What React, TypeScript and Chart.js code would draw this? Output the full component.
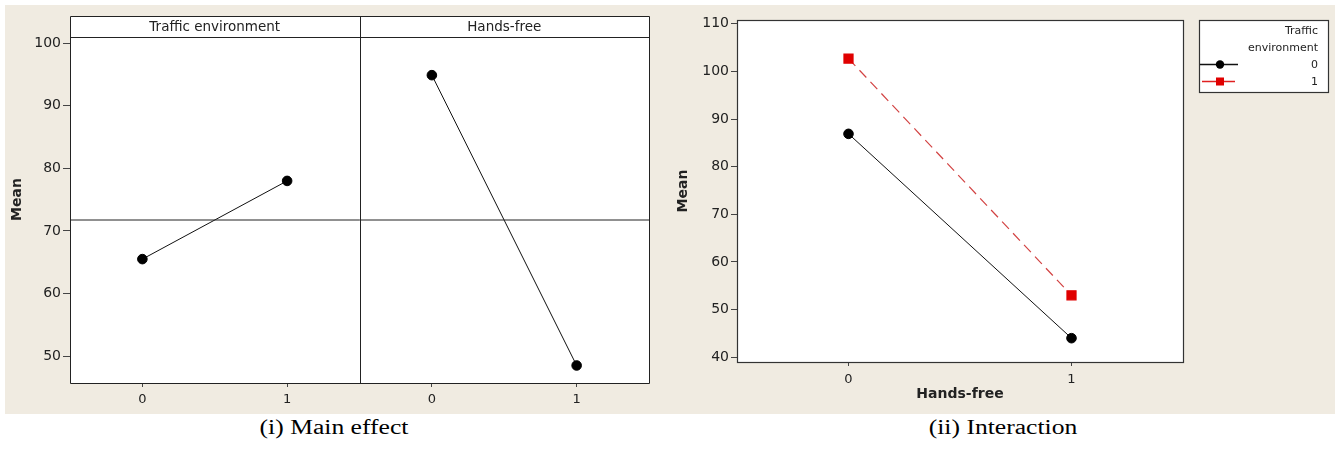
import React, { useEffect, useRef } from "react";
import { Chart, registerables } from "chart.js";

Chart.register(...registerables);

// ---------- data ----------
const mainFacetTitles = ["Traffic environment", "Hands-free"];
const mainXTickValues = [0, 1, 2, 3];
const mainXTickLabels = ["0", "1", "0", "1"];
const trafficLevels = [0, 1];
const trafficMeans = [65.5, 78.0];
const handsFreeLevels = [2, 3];
const handsFreeMeans = [94.9, 48.5];
const grandMean = 71.75;
const mainYTicks = [50, 60, 70, 80, 90, 100];

const interXTickValues = [0, 1];
const interXTickLabels = ["0", "1"];
const interHandsFree = [0, 1];
const interEnv0Means = [86.9, 44.0];
const interEnv1Means = [102.7, 53.0];
const interYTicks = [40, 50, 60, 70, 80, 90, 100, 110];
const legendTitle = ["Traffic", "environment"];
const legendLabels = ["0", "1"];

const FONT = "'DejaVu Sans', Tahoma, sans-serif";
const INK = "#222";
const BEIGE = "#f0ebe1";

const crisp = (v: number) => Math.round(v) + 0.5;

const mainPlugin = {
  id: "mainFacets",
  beforeDraw(chart: any) {
    const { ctx, chartArea } = chart;
    const { left, top, right, bottom } = chartArea;
    ctx.save();
    ctx.fillStyle = "#fff";
    ctx.fillRect(left, top - 21, right - left, bottom - top + 21);
    ctx.restore();
  },
  afterDraw(chart: any) {
    const { ctx, chartArea, scales } = chart;
    const { left, top, right, bottom } = chartArea;
    const stripTop = top - 21;
    const divX = scales.x.getPixelForValue(1.5);
    ctx.save();
    ctx.strokeStyle = INK;
    ctx.lineWidth = 1;
    ctx.beginPath();
    ctx.rect(crisp(left), crisp(stripTop), Math.round(right - left), Math.round(bottom - stripTop));
    ctx.moveTo(crisp(left), crisp(top));
    ctx.lineTo(crisp(right), crisp(top));
    ctx.moveTo(crisp(divX), crisp(stripTop));
    ctx.lineTo(crisp(divX), crisp(bottom));
    ctx.stroke();
    ctx.fillStyle = INK;
    ctx.font = `13.5px ${FONT}`;
    ctx.textAlign = "center";
    ctx.textBaseline = "middle";
    ctx.fillText(mainFacetTitles[0], (left + divX) / 2, stripTop + 11);
    ctx.fillText(mainFacetTitles[1], (divX + right) / 2, stripTop + 11);
    // y title
    ctx.translate(12, (stripTop + bottom) / 2);
    ctx.rotate(-Math.PI / 2);
    ctx.font = `bold 14px ${FONT}`;
    ctx.fillText("Mean", 0, 0);
    ctx.restore();
  },
};

const interPlugin = {
  id: "interDecor",
  beforeDraw(chart: any) {
    const { ctx, chartArea } = chart;
    const { left, top, right, bottom } = chartArea;
    ctx.save();
    ctx.fillStyle = "#fff";
    ctx.fillRect(left, top, right - left, bottom - top);
    ctx.restore();
  },
  afterDraw(chart: any) {
    const { ctx, chartArea } = chart;
    const { left, top, right, bottom } = chartArea;
    ctx.save();
    ctx.strokeStyle = "#333";
    ctx.lineWidth = 1.2;
    ctx.strokeRect(crisp(left), crisp(top), Math.round(right - left), Math.round(bottom - top));
    ctx.fillStyle = INK;
    ctx.textAlign = "center";
    ctx.textBaseline = "middle";
    ctx.font = `bold 14px ${FONT}`;
    ctx.fillText("Hands-free", (left + right) / 2, bottom + 32);
    ctx.save();
    ctx.translate(18, (top + bottom) / 2);
    ctx.rotate(-Math.PI / 2);
    ctx.fillText("Mean", 0, 0);
    ctx.restore();

    // legend
    const lx = 534, ly = 15, lw = 129, lh = 72;
    ctx.fillStyle = "#fff";
    ctx.fillRect(lx, ly, lw, lh);
    ctx.strokeStyle = "#333";
    ctx.lineWidth = 1.2;
    ctx.strokeRect(crisp(lx), crisp(ly), lw, lh);
    ctx.fillStyle = INK;
    ctx.font = `11px ${FONT}`;
    ctx.textAlign = "right";
    const tx = lx + lw - 10;
    ctx.fillText(legendTitle[0], tx, ly + 11);
    ctx.fillText(legendTitle[1], tx, ly + 28);
    ctx.fillText(legendLabels[0], tx, ly + 45);
    ctx.fillText(legendLabels[1], tx, ly + 62);
    // samples
    ctx.lineWidth = 1.3;
    ctx.strokeStyle = "#111";
    ctx.beginPath();
    ctx.moveTo(lx + 1, ly + 44.5);
    ctx.lineTo(lx + 39, ly + 44.5);
    ctx.stroke();
    ctx.fillStyle = "#000";
    ctx.beginPath();
    ctx.arc(lx + 21, ly + 44.5, 4.2, 0, Math.PI * 2);
    ctx.fill();
    ctx.strokeStyle = "#e02020";
    ctx.beginPath();
    ctx.moveTo(lx + 3, ly + 61.5);
    ctx.lineTo(lx + 36, ly + 61.5);
    ctx.stroke();
    ctx.fillStyle = "#e00000";
    ctx.fillRect(lx + 17, ly + 57.5, 8, 8);
    ctx.restore();
  },
};

function MainEffectChart() {
  const ref = useRef<HTMLCanvasElement>(null);
  useEffect(() => {
    const chart = new Chart(ref.current as HTMLCanvasElement, {
      type: "scatter",
      data: {
        datasets: [
          {
            label: "ref",
            data: [
              { x: -0.5, y: grandMean },
              { x: 3.5, y: grandMean },
            ],
            showLine: true,
            borderColor: INK,
            borderWidth: 1,
            pointRadius: 0,
          },
          {
            label: "Traffic environment",
            data: trafficLevels.map((x, i) => ({ x, y: trafficMeans[i] })),
            showLine: true,
            borderColor: "#111",
            borderWidth: 1,
            pointRadius: 4.8,
            pointBackgroundColor: "#000",
            pointBorderColor: "#000",
          },
          {
            label: "Hands-free",
            data: handsFreeLevels.map((x, i) => ({ x, y: handsFreeMeans[i] })),
            showLine: true,
            borderColor: "#111",
            borderWidth: 1,
            pointRadius: 4.8,
            pointBackgroundColor: "#000",
            pointBorderColor: "#000",
          },
        ],
      },
      options: {
        responsive: false,
        animation: false,
        layout: { padding: { top: 32, right: 6, left: 0, bottom: 0 } },
        plugins: { legend: { display: false }, tooltip: { enabled: false } },
        scales: {
          x: {
            type: "linear",
            min: -0.5,
            max: 3.5,
            afterBuildTicks: (s: any) => {
              s.ticks = mainXTickValues.map((v) => ({ value: v }));
            },
            afterFit: (s: any) => {
              s.height = 31;
            },
            border: { display: false },
            grid: { drawOnChartArea: false, drawTicks: true, tickLength: 4, color: "#444" },
            ticks: {
              autoSkip: false,
              maxRotation: 0,
              padding: 5,
              color: INK,
              font: { family: FONT, size: 13 },
              callback: (v: any) => mainXTickLabels[mainXTickValues.indexOf(Number(v))] ?? "",
            },
          },
          y: {
            min: 45.7,
            max: 101,
            afterBuildTicks: (s: any) => {
              s.ticks = mainYTicks.map((v) => ({ value: v }));
            },
            afterFit: (s: any) => {
              s.width = 65;
            },
            border: { display: false },
            grid: { drawOnChartArea: false, drawTicks: true, tickLength: 7, color: "#444" },
            ticks: { padding: 2, color: INK, font: { family: FONT, size: 14 } },
          },
        },
      },
      plugins: [mainPlugin],
    } as any);
    return () => chart.destroy();
  }, []);
  return (
    <canvas
      ref={ref}
      width={650}
      height={409}
      style={{ position: "absolute", left: 5, top: 5, width: 650, height: 409 }}
    />
  );
}

function InteractionChart() {
  const ref = useRef<HTMLCanvasElement>(null);
  useEffect(() => {
    const chart = new Chart(ref.current as HTMLCanvasElement, {
      type: "scatter",
      data: {
        datasets: [
          {
            label: "1",
            data: interHandsFree.map((x, i) => ({ x, y: interEnv1Means[i] })),
            showLine: true,
            borderColor: "rgba(205,45,45,0.9)",
            borderWidth: 1.2,
            borderDash: [10, 6],
            pointStyle: "rect",
            pointRadius: 6.4,
            pointBackgroundColor: "#e00000",
            pointBorderColor: "#e00000",
          },
          {
            label: "0",
            data: interHandsFree.map((x, i) => ({ x, y: interEnv0Means[i] })),
            showLine: true,
            borderColor: "#111",
            borderWidth: 1,
            pointRadius: 4.8,
            pointBackgroundColor: "#000",
            pointBorderColor: "#000",
          },
        ],
      },
      options: {
        responsive: false,
        animation: false,
        layout: { padding: { top: 15, right: 152, left: 0, bottom: 0 } },
        plugins: { legend: { display: false }, tooltip: { enabled: false } },
        scales: {
          x: {
            type: "linear",
            min: -0.5,
            max: 1.5,
            afterBuildTicks: (s: any) => {
              s.ticks = interXTickValues.map((v) => ({ value: v }));
            },
            afterFit: (s: any) => {
              s.height = 52;
            },
            border: { display: false },
            grid: { drawOnChartArea: false, drawTicks: true, tickLength: 4, color: "#444" },
            ticks: {
              autoSkip: false,
              maxRotation: 0,
              padding: 6,
              color: INK,
              font: { family: FONT, size: 13 },
              callback: (v: any) => interXTickLabels[interXTickValues.indexOf(Number(v))] ?? "",
            },
          },
          y: {
            min: 39,
            max: 110.8,
            afterBuildTicks: (s: any) => {
              s.ticks = interYTicks.map((v) => ({ value: v }));
            },
            afterFit: (s: any) => {
              s.width = 72;
            },
            border: { display: false },
            grid: { drawOnChartArea: false, drawTicks: true, tickLength: 6, color: "#444" },
            ticks: { padding: 2, color: INK, font: { family: FONT, size: 14 } },
          },
        },
      },
      plugins: [interPlugin],
    } as any);
    return () => chart.destroy();
  }, []);
  return (
    <canvas
      ref={ref}
      width={670}
      height={409}
      style={{ position: "absolute", left: 665, top: 5, width: 670, height: 409 }}
    />
  );
}

const captionStyle: React.CSSProperties = {
  position: "absolute",
  top: 414,
  width: 300,
  height: 26,
  lineHeight: "26px",
  textAlign: "center",
  fontFamily: "'Liberation Serif', 'Times New Roman', serif",
  fontSize: 20,
  color: "#000",
  transform: "scaleX(1.28)",
  transformOrigin: "center",
  whiteSpace: "nowrap",
};

export default function App() {
  return (
    <div
      style={{
        position: "absolute",
        left: 0,
        top: 0,
        width: 1339,
        height: 449,
        background: "#fff",
        overflow: "hidden",
      }}
    >
      <div
        style={{
          position: "absolute",
          left: 5,
          top: 5,
          width: 1330,
          height: 409,
          background: BEIGE,
        }}
      />
      <MainEffectChart />
      <InteractionChart />
      <div style={{ ...captionStyle, left: 334 - 150 }}>(i) Main effect</div>
      <div style={{ ...captionStyle, left: 1003 - 150 }}>(ii) Interaction</div>
    </div>
  );
}
